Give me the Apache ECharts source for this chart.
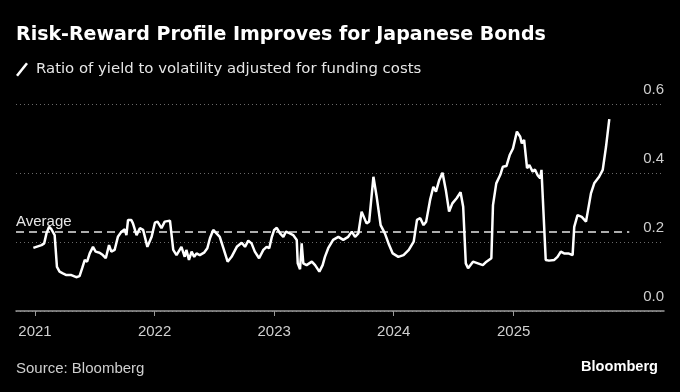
<!DOCTYPE html>
<html>
<head>
<meta charset="utf-8">
<script src="https://cdn.jsdelivr.net/npm/echarts@6/dist/echarts.min.js"></script>
<style>
html,body{margin:0;padding:0;background:#000;}
#chart{width:680px;height:392px;}
</style>
</head>
<body>
<div id="chart"></div>
<script>
const dates = [
'2020-12-27','2021-01-21','2021-01-29','2021-02-05','2021-02-13','2021-02-20','2021-02-25','2021-03-02','2021-03-09','2021-03-17',
'2021-03-27','2021-04-07','2021-04-22','2021-05-07','2021-05-17','2021-05-25','2021-06-02','2021-06-09','2021-06-17','2021-06-27',
'2021-07-05','2021-07-17','2021-07-27','2021-08-05','2021-08-15','2021-08-22','2021-09-01','2021-09-11','2021-09-22','2021-10-02',
'2021-10-07','2021-10-12','2021-10-22','2021-10-27','2021-11-07','2021-11-17','2021-11-27','2021-12-10','2021-12-23','2022-01-02',
'2022-01-10','2022-01-22','2022-02-01','2022-02-17','2022-02-27','2022-03-09','2022-03-24','2022-04-03','2022-04-08','2022-04-16',
'2022-04-24','2022-05-02','2022-05-09','2022-05-19','2022-06-01','2022-06-11','2022-06-19','2022-06-29','2022-07-09','2022-07-19',
'2022-07-30','2022-08-12','2022-08-24','2022-09-09','2022-09-24','2022-10-04','2022-10-14','2022-10-24','2022-11-03','2022-11-16',
'2022-11-29','2022-12-09','2022-12-17','2022-12-25','2023-01-01','2023-01-09','2023-01-19','2023-01-29','2023-02-06','2023-02-18',
'2023-02-28','2023-03-11','2023-03-14','2023-03-21','2023-03-26','2023-03-31','2023-04-10','2023-04-26','2023-05-06','2023-05-19',
'2023-05-29','2023-06-05','2023-06-15','2023-06-30','2023-07-16','2023-07-31','2023-08-15','2023-08-26','2023-09-05','2023-09-15',
'2023-09-25','2023-10-10','2023-10-18','2023-10-31','2023-11-10','2023-11-22','2023-12-05','2023-12-18','2023-12-29','2024-01-15',
'2024-01-31','2024-02-16','2024-03-02','2024-03-12','2024-03-22','2024-04-01','2024-04-09','2024-04-21','2024-05-01','2024-05-09',
'2024-05-19','2024-05-29','2024-06-08','2024-06-18','2024-06-28','2024-07-11','2024-07-23','2024-07-31','2024-08-08','2024-08-15',
'2024-08-30','2024-09-14','2024-09-29','2024-10-10','2024-10-25','2024-10-30','2024-11-09','2024-11-21','2024-11-29','2024-12-10',
'2024-12-20','2024-12-30','2025-01-11','2025-01-21','2025-01-26','2025-02-02','2025-02-11','2025-02-18','2025-02-28','2025-03-07',
'2025-03-15','2025-03-23','2025-03-27','2025-04-09','2025-04-19','2025-05-05','2025-05-15','2025-05-25','2025-06-04','2025-06-17',
'2025-06-30','2025-07-05','2025-07-15','2025-07-28','2025-08-10','2025-08-25','2025-09-04','2025-09-19','2025-09-30','2025-10-10',
'2025-10-20'
];
const ratio = [
0.183,0.191,0.196,0.225,0.244,0.237,0.240,0.220,0.128,0.114,
0.109,0.104,0.104,0.098,0.101,0.124,0.148,0.143,0.167,0.186,
0.172,0.169,0.162,0.153,0.191,0.172,0.177,0.215,0.230,0.237,
0.220,0.264,0.264,0.254,0.220,0.240,0.235,0.186,0.215,0.256,
0.259,0.240,0.259,0.262,0.177,0.162,0.186,0.157,0.177,0.148,
0.172,0.157,0.167,0.162,0.169,0.182,0.211,0.235,0.225,0.215,
0.182,0.143,0.157,0.186,0.198,0.186,0.204,0.196,0.172,0.153,
0.177,0.186,0.182,0.215,0.235,0.241,0.225,0.215,0.230,0.225,
0.220,0.206,0.138,0.121,0.196,0.138,0.133,0.143,0.133,0.114,
0.133,0.157,0.182,0.206,0.215,0.206,0.215,0.230,0.215,0.225,
0.288,0.254,0.259,0.389,0.331,0.249,0.225,0.191,0.167,0.157,
0.162,0.177,0.201,0.264,0.269,0.249,0.259,0.322,0.360,0.346,
0.380,0.401,0.351,0.288,0.312,0.327,0.344,0.302,0.138,0.124,
0.143,0.138,0.133,0.143,0.153,0.307,0.370,0.394,0.418,0.420,
0.452,0.471,0.520,0.505,0.486,0.496,0.414,0.423,0.404,0.410,
0.394,0.385,0.409,0.148,0.146,0.148,0.157,0.172,0.167,0.167,
0.162,0.244,0.278,0.273,0.259,0.341,0.370,0.389,0.409,0.476,
0.556
];
const yearTicks = ['2021-01-01','2022-01-01','2023-01-01','2024-01-01','2025-01-01'];
const yTicks = [0, 0.2, 0.4, 0.6];
const averageValue = 0.229;
const xRange = ['2020-11-04', '2026-04-05'];
const averageEnd = '2025-12-20';

const ts = s => Date.parse(s + 'T00:00:00Z');
const seriesData = dates.map((d, i) => [ts(d), ratio[i]]);
const FONT = '"DejaVu Sans", Verdana, sans-serif';
const FONT2 = '"Liberation Sans", Arial, sans-serif';

const chart = echarts.init(document.getElementById('chart'), null, {renderer: 'canvas'});
chart.setOption({
  backgroundColor: '#000',
  animation: false,
  textStyle: {fontFamily: FONT},
  title: [
    {text: 'Risk-Reward Profile Improves for Japanese Bonds', left: 11, top: 21,
     textStyle: {color: '#fff', fontSize: 19, fontWeight: 'bold', fontFamily: FONT}},
    {text: 'Source: Bloomberg', left: 11, top: 356,
     textStyle: {color: '#cfcfcf', fontSize: 15, fontWeight: 'normal', fontFamily: FONT2}},
    {text: 'Bloomberg', right: 17, top: 354,
     textStyle: {color: '#fff', fontSize: 14.6, fontWeight: 'bold', fontFamily: FONT2}}
  ],
  legend: {
    left: 11, top: 57,
    itemWidth: 12, itemHeight: 14, itemGap: 6,
    icon: 'path://M10,0 L12,1.5 L2,14 L0,12.5 Z',
    textStyle: {color: '#e6e6e6', fontSize: 14.9, fontFamily: FONT, padding: [0, 0, 0, 3]},
    data: [{name: 'Ratio of yield to volatility adjusted for funding costs', itemStyle: {color: '#fff'}}]
  },
  grid: {left: 16, right: 16, top: 104, bottom: 81, containLabel: false},
  xAxis: {
    type: 'value',
    min: ts(xRange[0]), max: ts(xRange[1]),
    splitLine: {show: false},
    axisLine: {show: true, lineStyle: {color: '#9a9a9a', width: 1.5}},
    axisTick: {show: true, customValues: yearTicks.map(ts), length: 5, lineStyle: {color: '#9a9a9a', width: 1}},
    axisLabel: {show: true, customValues: yearTicks.map(ts), color: '#cfcfcf', fontSize: 15, margin: 13.5, fontFamily: FONT2,
      formatter: v => String(new Date(v).getUTCFullYear())}
  },
  yAxis: {
    type: 'value', position: 'right',
    min: 0, max: 0.6, interval: 0.2,
    axisLine: {show: false}, axisTick: {show: false},
    splitLine: {show: true, lineStyle: {color: '#6a6a6a', type: [1, 3], width: 1}},
    axisLabel: {inside: true, margin: 0, color: '#cfcfcf', fontSize: 15, fontFamily: FONT2,
      verticalAlign: 'bottom', padding: [0, 0, 7, 0],
      formatter: v => v.toFixed(1)}
  },
  series: [{
    name: 'Ratio of yield to volatility adjusted for funding costs',
    type: 'line', data: seriesData, showSymbol: false, symbol: 'none',
    lineStyle: {color: '#fff', width: 2.5}, itemStyle: {color: '#fff'},
    z: 5,
    markLine: {
      silent: true, symbol: ['none', 'none'],
      lineStyle: {color: '#e6e6e6', type: [8, 5], width: 1.5},
      label: {show: true, position: 'insideStartTop', formatter: 'Average', color: '#e6e6e6', fontSize: 15, fontFamily: FONT2, distance: [0, 3]},
      data: [[{coord: [ts(xRange[0]), averageValue]}, {coord: [ts(averageEnd), averageValue]}]]
    }
  }]
});
</script>
</body>
</html>
